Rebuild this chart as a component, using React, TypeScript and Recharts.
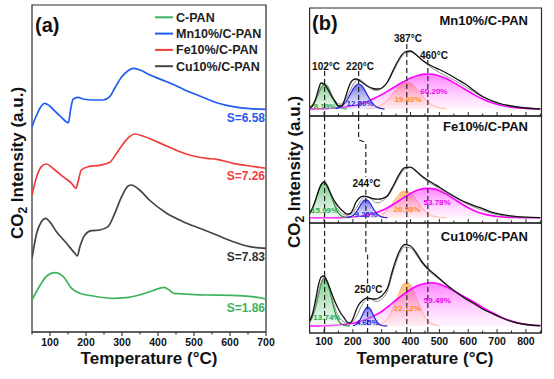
import React from "react";
import {
  ComposedChart,
  LineChart,
  Line,
  Area,
  XAxis,
  YAxis,
  ReferenceArea,
  ReferenceDot,
} from "recharts";

const FONT = '"Liberation Sans", Arial, Helvetica, sans-serif';
const W = 554;
const H = 379;
const AX = "#2b2b2b";

// ---------- panel (a): CO2-TPD profiles (offset, a.u.) ----------
const cpanT = [50, 73, 91, 114, 137, 160, 183, 220, 275, 311, 348, 385, 417, 431, 444, 477, 532, 606, 662, 700];
const cpanI = [32, 47, 56, 59.3, 55.3, 43.7, 38.7, 36, 33.7, 34.3, 37, 41.3, 44.7, 42, 38.7, 38, 37, 36.7, 35.3, 33];

const mnT = [50, 63, 76, 85, 99, 118, 132, 146, 151, 157, 164, 178, 192, 220, 248, 266, 280, 299, 317, 331, 350, 378, 424, 452, 479, 516, 563, 609, 655, 700];
const mnI = [205.3, 217, 226, 228.7, 226, 219.3, 214.7, 210, 209.3, 222, 232.7, 234.7, 233, 232, 232, 235.3, 244, 255, 261.3, 263.7, 262, 257, 250.3, 246, 241.3, 236, 229.3, 225.3, 223.3, 222.7];

const feT = [50, 63, 76, 90, 108, 136, 160, 172, 178, 187, 206, 238, 266, 285, 303, 321, 335, 358, 386, 424, 461, 498, 535, 563, 609, 655, 700];
const feI = [137, 155.3, 165.3, 168, 163.7, 155.3, 148.7, 143.7, 150.3, 162, 165.3, 166.7, 169.7, 178.7, 188, 195.3, 198, 196, 192, 186, 180.3, 176, 173.7, 172.7, 168.7, 166, 163.7];

const cuT = [50, 63, 76, 88, 99, 118, 146, 169, 176, 183, 197, 215, 238, 261, 280, 299, 317, 326, 349, 376, 424, 470, 516, 563, 609, 655, 700];
const cuI = [73.7, 98.7, 110.3, 113.7, 110.3, 100.3, 88.7, 78.7, 76, 85.3, 97, 101.3, 102, 105.3, 118.7, 135.3, 146, 147, 142, 132, 118.7, 110.3, 103.7, 97, 90.3, 85.3, 83.7];

const ticksA = [50, 100, 150, 200, 250, 300, 350, 400, 450, 500, 550, 600, 650, 700];

const seriesA = [
  { name: "C-PAN", t: cpanT, v: cpanI, color: "#3db35c", s: "S=1.86" },
  { name: "Mn10%/C-PAN", t: mnT, v: mnI, color: "#1f5cf2", s: "S=6.58" },
  { name: "Fe10%/C-PAN", t: feT, v: feI, color: "#f23c3c", s: "S=7.26" },
  { name: "Cu10%/C-PAN", t: cuT, v: cuI, color: "#444444", s: "S=7.83" },
];

// ---------- panel (b): deconvolution ----------
const expT = [50, 60, 70, 80, 90, 100, 110, 120, 130, 140, 150, 160, 170, 180, 190, 200, 210, 220, 230, 240, 250, 260, 270, 280, 290, 300, 320, 340, 360, 380, 400, 420, 440, 460, 480, 500, 530, 560, 590, 620, 650, 680, 710, 740, 770, 800, 850];
const magT = [50, 75, 100, 125, 150, 175, 200, 225, 250, 275, 300, 325, 350, 375, 400, 425, 450, 475, 500, 525, 550, 575, 600, 625, 650, 675, 700, 725, 750, 775, 800, 825, 850];
const ticksB = [50, 100, 150, 200, 250, 300, 350, 400, 450, 500, 550, 600, 650, 700, 750, 800, 850];

// Mn10%/C-PAN
const mnExp = [1, 3, 9, 19, 26, 25, 21, 16, 11, 7, 3, 3, 8, 17, 25, 29, 30, 29, 27, 25, 23, 21.5, 20.5, 20, 20, 21, 27, 39, 50, 57, 58, 54, 49, 45, 42, 39.5, 35, 30, 25, 18.5, 12.5, 8.5, 5.5, 3.5, 2, 1, 0];
const mnFit = [1.6, 4, 8.5, 15, 21.5, 25, 24, 19, 12.5, 7.5, 5, 5, 7.5, 12, 18, 24, 28, 29.5, 28.5, 26, 23, 20.5, 19, 18.5, 19, 20.5, 26.5, 37, 48, 55.5, 57, 54, 49, 44, 40, 36.5, 32, 27.5, 22.5, 17, 12, 8, 5, 3, 1.8, 1, 0.2];
const mnGreenT = [50, 60, 70, 80, 90, 100, 110, 120, 130, 140, 150, 160, 170, 180];
const mnGreen = [1.5, 4, 8.7, 15.2, 21.5, 25, 23.4, 17.9, 11.1, 5.6, 2.3, 0.8, 0.2, 0];
const mnBlueT = [140, 150, 160, 170, 180, 190, 200, 210, 220, 230, 240, 250, 260, 270, 280, 290, 300, 310];
const mnBlue = [0.4, 1.1, 2.5, 5.1, 9, 14.1, 19.4, 23.5, 25, 23.5, 19.4, 14.1, 9, 5.1, 2.5, 1.1, 0.4, 0];
const mnOrangeT = [250, 275, 300, 325, 350, 375, 387, 400, 425, 450, 475, 500, 525];
const mnOrange = [0.3, 1.2, 4.2, 10.4, 19.3, 26, 27, 25.9, 18.9, 10.1, 4, 1.2, 0.3];
const mnMag = [0.1, 0.2, 0.4, 0.7, 1.2, 2.1, 3.3, 5.1, 7.6, 10.7, 14.4, 18.6, 23, 27.2, 30.9, 33.5, 34.9, 34.7, 33.1, 30.2, 26.4, 22.1, 17.7, 13.6, 10, 7, 4.7, 3, 1.9, 1.1, 0.6, 0.3, 0.2];

// Fe10%/C-PAN
const feExp = [4, 9, 17, 26, 33, 35.5, 32, 26, 20, 15, 11, 8, 5.5, 3.5, 4, 8, 15, 19, 21, 21.5, 21, 20, 19, 18.5, 18.5, 19, 22, 32, 43, 50, 50.5, 46.5, 41.5, 37.5, 34, 30.5, 25, 20, 15.5, 12, 9, 5.5, 3.5, 2, 1, 0.5, 0];
const feFit = [4.9, 10, 17.5, 26, 33, 36, 33, 26.5, 19, 12.5, 7.5, 4.5, 3, 2.5, 3, 5, 9, 13.5, 18, 20.5, 21, 19.5, 17, 15, 15, 16.5, 21, 30, 41, 48.5, 50, 46, 40.5, 36, 32.5, 29, 24, 19, 14.5, 10.5, 7.5, 4.5, 2.5, 1.3, 0.6, 0.3, 0];
const feGreenT = [50, 60, 70, 80, 90, 100, 110, 120, 130, 140, 150, 160, 170, 180, 190];
const feGreen = [4.9, 10, 17.5, 26.1, 33.2, 36, 33.2, 26.1, 17.5, 10, 4.9, 2, 0.7, 0.2, 0];
const feBlueT = [180, 190, 200, 210, 220, 230, 240, 250, 260, 270, 280, 290, 300, 310, 320];
const feBlue = [0.2, 0.8, 2.2, 5.1, 9.4, 14.3, 17.5, 17.5, 14.3, 9.4, 5.1, 2.2, 0.8, 0.2, 0];
const feOrangeT = [250, 275, 300, 325, 350, 375, 400, 425, 450, 475, 500, 525];
const feOrange = [0.1, 0.7, 3.1, 9.4, 19.2, 26.5, 24.7, 15.6, 6.6, 1.9, 0.4, 0];
const feMag = [0, 0, 0, 0, 0.1, 0.3, 0.7, 1.4, 2.6, 4.4, 7.1, 10.7, 15.1, 19.8, 24.2, 27.6, 29.3, 29.1, 27, 23.3, 18.8, 14.2, 10, 6.5, 4, 2.3, 1.2, 0.6, 0.3, 0.1, 0, 0, 0];

// Cu10%/C-PAN
const cuExp = [5, 12, 25, 40, 49, 50, 45, 38, 30, 23, 17, 12, 8, 4, 3, 7, 15, 21, 24.5, 27, 28, 27.5, 27, 27, 28, 30, 38, 58, 74, 81.5, 80, 73, 64, 57.5, 52.5, 47.5, 40, 33.5, 27.5, 22.5, 17, 13, 9, 5.5, 3, 1.5, 0.3];
const cuFit = [4, 9.5, 19, 32, 43.5, 48.5, 46, 37, 26, 16.5, 10, 6, 4, 3, 3, 4.5, 8.5, 14, 20, 24.5, 27, 27, 25.5, 24.5, 25, 27, 35, 55, 71, 79, 78, 71, 62.5, 56, 51, 46.5, 39.5, 33, 27, 22, 17, 12.5, 8.5, 5.2, 2.9, 1.5, 0.3];
const cuGreenT = [50, 60, 70, 80, 90, 100, 110, 120, 130, 140, 150, 160, 170, 180, 190];
const cuGreen = [3.7, 9.1, 18.2, 30.4, 41.9, 48, 45.2, 35.3, 22.9, 12.3, 5.4, 2, 0.6, 0.2, 0];
const cuBlueT = [200, 210, 220, 230, 240, 250, 260, 270, 280, 290, 300, 310, 320];
const cuBlue = [0.3, 1.2, 3.9, 9, 15.2, 18.9, 17.2, 11.5, 5.7, 2, 0.5, 0.1, 0];
const cuOrangeT = [275, 300, 325, 350, 375, 387, 400, 425, 450, 475, 500];
const cuOrange = [0.3, 2, 9.2, 25.2, 41.5, 44, 41.1, 24.4, 8.7, 1.9, 0.2];
const cuMag = [0.1, 0.1, 0.3, 0.5, 1, 1.7, 2.8, 4.5, 7, 10.5, 14.5, 20, 26, 31.5, 36.5, 40.5, 42.5, 43.3, 42, 39, 35, 31, 27, 23, 18.5, 14.5, 11, 7.5, 5, 3, 1.6, 0.8, 0.4];

// peak positions / shares
const mnPeaks = ["102°C", "220°C", "387°C", "460°C"];
const mnShares = ["8.19%", "12.50%", "19.02%", "60.20%"];
const fePeaks = ["244°C"];
const feShares = ["15.99%", "9.25%", "20.98%", "53.78%"];
const cuPeaks = ["250°C"];
const cuShares = ["13.74%", "4.65%", "22.12%", "59.49%"];

const COLORS = {
  green: { stroke: "#1f9a30", top: "#10a52a", bottom: "#dcf2e0", text: "#2aa845" },
  blue: { stroke: "#2323d8", top: "#1010e0", bottom: "#d8d8fa", text: "#2b2bdc" },
  orange: { stroke: "#ffbb88", top: "#ff8a10", bottom: "#ffe6d0", text: "#ff8a1a" },
  magenta: { stroke: "#ff00ff", top: "#ff10ff", bottom: "#ffdcff", text: "#f000f0" },
};

const pts = (t: number[], v: number[]) => t.map((x, i) => ({ t: x, v: v[i] }));

function TickA(p: any) {
  const { x, y, payload } = p;
  const major = payload.value % 100 === 0;
  return (
    <g>
      <line x1={x} x2={x} y1={y} y2={y + (major ? 4 : 2.5)} stroke={AX} strokeWidth={1.1} />
      {major ? (
        <text x={x} y={y + 14} textAnchor="middle" fontFamily={FONT} fontWeight={700} fontSize={10.5} fill="#111">
          {payload.value}
        </text>
      ) : null}
    </g>
  );
}

const makeTickB = (labels: boolean) => (p: any) => {
  const { x, y, payload } = p;
  const major = payload.value % 100 === 0;
  return (
    <g>
      <line x1={x} x2={x} y1={y} y2={y - (major ? 4 : 2.5)} stroke={AX} strokeWidth={1} />
      {labels && major && payload.value < 850 ? (
        <text x={x} y={y + 12} textAnchor="middle" fontFamily={FONT} fontWeight={700} fontSize={10.5} fill="#111">
          {payload.value}
        </text>
      ) : null}
    </g>
  );
};

function PanelA() {
  return (
    <LineChart
      width={W}
      height={H}
      margin={{ top: 5, right: W - 266, bottom: H - 332 - 40, left: 32 }}
      style={{ position: "absolute", left: 0, top: 0 }}
    >
      <XAxis
        type="number"
        dataKey="t"
        domain={[50, 700]}
        allowDataOverflow
        ticks={ticksA}
        interval={0}
        tickSize={0}
        tickMargin={0}
        tickLine={false}
        tick={TickA}
        height={40}
        axisLine={{ stroke: AX, strokeWidth: 1.2 }}
      />
      <YAxis hide type="number" domain={[0, 327]} allowDataOverflow />
      <ReferenceArea x1={50} x2={700} y1={0} y2={327} fill="none" stroke={AX} strokeWidth={1.2} ifOverflow="visible" />
      {seriesA.map((s) => (
        <Line
          key={s.name}
          data={pts(s.t, s.v)}
          dataKey="v"
          type="monotone"
          stroke={s.color}
          strokeWidth={1.7}
          dot={false}
          activeDot={false}
          isAnimationActive={false}
        />
      ))}
    </LineChart>
  );
}

type Note = { t: number; v: number; text: string; color: string; size: number };
type Comp = { key: keyof typeof COLORS; t: number[]; v: number[] };

function Deconv(props: {
  id: string;
  top: number;
  bottom: number;
  dom: [number, number];
  exp: number[];
  fit: number[];
  comps: Comp[];
  guides: number[][][];
  notes: Note[];
  labels: boolean;
}) {
  const { id, top, bottom, dom, exp, fit, comps, guides, notes, labels } = props;
  return (
    <ComposedChart
      width={W}
      height={H}
      margin={{ top, right: W - 541.5, bottom: H - bottom - 20, left: 309.6 }}
      style={{ position: "absolute", left: 0, top: 0 }}
    >
      <defs>
        {comps.map((c) => (
          <linearGradient key={c.key} id={`${id}-${c.key}`} x1="0" y1="0" x2="0" y2="1">
            <stop offset="0%" stopColor={COLORS[c.key].top} stopOpacity={c.key === "magenta" ? 0.88 : 1} />
            <stop offset="100%" stopColor={COLORS[c.key].bottom} stopOpacity={c.key === "magenta" ? 0.5 : 0.6} />
          </linearGradient>
        ))}
      </defs>
      <XAxis
        type="number"
        dataKey="t"
        domain={[50, 854]}
        allowDataOverflow
        ticks={ticksB}
        interval={0}
        tickSize={0}
        tickMargin={0}
        tickLine={false}
        tick={makeTickB(labels)}
        height={20}
        axisLine={{ stroke: AX, strokeWidth: 1.2 }}
      />
      <YAxis hide type="number" domain={dom} allowDataOverflow />
      <ReferenceArea x1={50} x2={854} y1={dom[0]} y2={dom[1]} fill="none" stroke={AX} strokeWidth={1.2} ifOverflow="visible" />
      {comps.map((c) => (
        <Area
          key={c.key}
          data={pts(c.t, c.v)}
          dataKey="v"
          type="monotone"
          baseValue={0}
          stroke={COLORS[c.key].stroke}
          strokeWidth={c.key === "magenta" ? 1.6 : 1.2}
          fill={`url(#${id}-${c.key})`}
          dot={false}
          activeDot={false}
          isAnimationActive={false}
        />
      ))}
      <Line data={pts(expT, fit)} dataKey="v" type="monotone" stroke="#8c8c8c" strokeWidth={1} dot={false} activeDot={false} isAnimationActive={false} />
      <Line data={pts(expT, exp)} dataKey="v" type="monotone" stroke="#111" strokeWidth={1.3} dot={false} activeDot={false} isAnimationActive={false} />
      {guides.map((g, i) => (
        <Line
          key={`g${i}`}
          data={g.map(([t, v]) => ({ t, v }))}
          dataKey="v"
          type="linear"
          stroke="#222"
          strokeWidth={1.2}
          strokeDasharray="5 3"
          dot={false}
          activeDot={false}
          isAnimationActive={false}
        />
      ))}
      {notes.map((n, i) => (
        <ReferenceDot
          key={`n${i}`}
          x={n.t}
          y={n.v}
          r={0}
          fill="none"
          stroke="none"
          ifOverflow="visible"
          label={{ value: n.text, position: "center", fill: n.color, fontSize: n.size, fontWeight: 700, fontFamily: FONT }}
        />
      ))}
    </ComposedChart>
  );
}

const DARK = "#111";
const shareNotes = (shares: string[], spots: number[][]): Note[] =>
  shares.map((s, i) => ({
    t: spots[i][0],
    v: spots[i][1],
    text: s,
    color: COLORS[(["green", "blue", "orange", "magenta"] as const)[i]].text,
    size: 8,
  }));

export default function App() {
  const mnComps: Comp[] = [
    { key: "orange", t: mnOrangeT, v: mnOrange },
    { key: "magenta", t: magT, v: mnMag },
    { key: "green", t: mnGreenT, v: mnGreen },
    { key: "blue", t: mnBlueT, v: mnBlue },
  ];
  const feComps: Comp[] = [
    { key: "orange", t: feOrangeT, v: feOrange },
    { key: "magenta", t: magT, v: feMag },
    { key: "green", t: feGreenT, v: feGreen },
    { key: "blue", t: feBlueT, v: feBlue },
  ];
  const cuComps: Comp[] = [
    { key: "orange", t: cuOrangeT, v: cuOrange },
    { key: "magenta", t: magT, v: cuMag },
    { key: "green", t: cuGreenT, v: cuGreen },
    { key: "blue", t: cuBlueT, v: cuBlue },
  ];

  const mnNotes: Note[] = [
    { t: 107, v: 43, text: mnPeaks[0], color: DARK, size: 10 },
    { t: 225, v: 43, text: mnPeaks[1], color: DARK, size: 10 },
    { t: 391, v: 71, text: mnPeaks[2], color: DARK, size: 10 },
    { t: 481, v: 54, text: mnPeaks[3], color: DARK, size: 10 },
    ...shareNotes(mnShares, [[103, 3], [225, 6], [391, 10], [481, 18]]),
  ];
  const feNotes: Note[] = [
    { t: 247, v: 34.7, text: fePeaks[0], color: DARK, size: 10 },
    ...shareNotes(feShares, [[102, 7.7], [245, 3.7], [388, 8.7], [492, 15.7]]),
  ];
  const cuNotes: Note[] = [
    { t: 254, v: 36.7, text: cuPeaks[0], color: DARK, size: 10 },
    ...shareNotes(cuShares, [[110, 9.3], [250, 4.3], [389, 17.7], [493, 26]]),
  ];

  const title = { fontFamily: FONT, fontWeight: 700, fill: "#111" } as const;

  return (
    <div style={{ position: "absolute", left: 0, top: 0, width: W, height: H, background: "#fff", overflow: "hidden" }}>
      <PanelA />
      <Deconv
        id="mn"
        top={8}
        bottom={116}
        dom={[-7, 101]}
        exp={mnExp}
        fit={mnFit}
        comps={mnComps}
        guides={[
          [[102, 38], [102, -7]],
          [[220, 38], [220, -7]],
          [[387, 65], [387, -7]],
          [[460, 49], [460, -7]],
        ]}
        notes={mnNotes}
        labels={false}
      />
      <Deconv
        id="fe"
        top={116}
        bottom={223}
        dom={[-5.3, 101.7]}
        exp={feExp}
        fit={feFit}
        comps={feComps}
        guides={[
          [[102, 101.7], [102, -5.3]],
          [[220, 101.7], [220, 80], [224, 77.5], [238, 76], [245, 74.5], [245, 41]],
          [[245, 28], [245, -5.3]],
          [[387, 101.7], [387, -5.3]],
          [[460, 101.7], [460, -5.3]],
        ]}
        notes={feNotes}
        labels={false}
      />
      <Deconv
        id="cu"
        top={223}
        bottom={333}
        dom={[-7, 103]}
        exp={cuExp}
        fit={cuFit}
        comps={cuComps}
        guides={[
          [[102, 103], [102, -7]],
          [[245, 103], [245, 75], [248, 72.5], [251, 71], [251, 42]],
          [[251, 30], [251, -7]],
          [[387, 103], [387, -7]],
          [[460, 103], [460, -7]],
        ]}
        notes={cuNotes}
        labels={true}
      />
      <svg width={W} height={H} style={{ position: "absolute", left: 0, top: 0, pointerEvents: "none" }}>
        {/* panel (a) */}
        <text x={35} y={32} fontSize={20} {...title}>(a)</text>
        {seriesA.map((s, i) => (
          <g key={s.name}>
            <line x1={155} x2={173} y1={17.3 + i * 16.3} y2={17.3 + i * 16.3} stroke={s.color} strokeWidth={2} />
            <text x={176} y={21.8 + i * 16.3} fontSize={12.5} {...title} fill="#222">{s.name}</text>
          </g>
        ))}
        <text x={265} y={122} textAnchor="end" fontSize={12} {...title} fill={seriesA[1].color}>{seriesA[1].s}</text>
        <text x={265} y={180} textAnchor="end" fontSize={12} {...title} fill={seriesA[2].color}>{seriesA[2].s}</text>
        <text x={265} y={261} textAnchor="end" fontSize={12} {...title} fill="#333">{seriesA[3].s}</text>
        <text x={265} y={312} textAnchor="end" fontSize={12} {...title} fill={seriesA[0].color}>{seriesA[0].s}</text>
        <text x={149} y={364} textAnchor="middle" fontSize={17} {...title}>Temperature (°C)</text>
        <text transform="translate(23,163) rotate(-90)" textAnchor="middle" fontSize={17} {...title}>
          CO<tspan dy={4} fontSize={12}>2</tspan><tspan dy={-4}> Intensity (a.u.)</tspan>
        </text>
        {/* panel (b) */}
        <text x={312} y={30} fontSize={20} {...title}>(b)</text>
        <text x={528} y={24.5} textAnchor="end" fontSize={13} {...title}>Mn10%/C-PAN</text>
        <text x={528} y={130.5} textAnchor="end" fontSize={13} {...title}>Fe10%/C-PAN</text>
        <text x={528} y={240.5} textAnchor="end" fontSize={13} {...title}>Cu10%/C-PAN</text>
        <text x={425} y={364} textAnchor="middle" fontSize={17} {...title}>Temperature (°C)</text>
        <text transform="translate(300,172) rotate(-90)" textAnchor="middle" fontSize={17} {...title}>
          CO<tspan dy={4} fontSize={12}>2</tspan><tspan dy={-4}> Intensity (a.u.)</tspan>
        </text>
      </svg>
    </div>
  );
}
